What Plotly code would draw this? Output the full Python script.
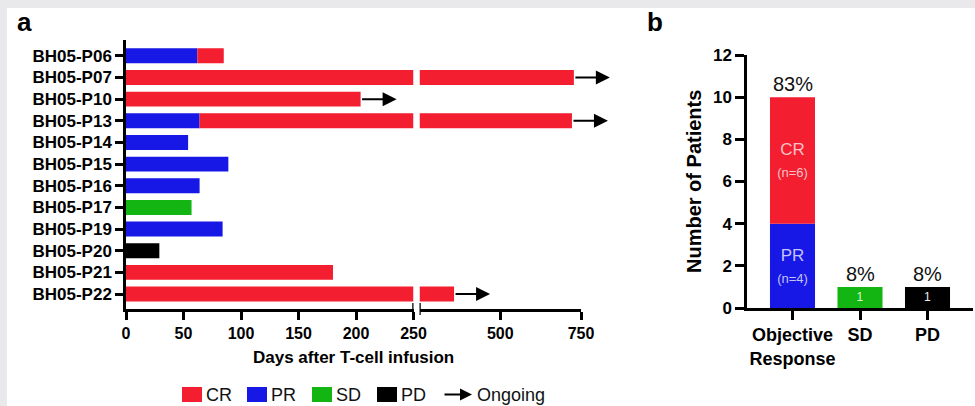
import plotly.graph_objects as go

# ---------------- data ----------------
patients = ["BH05-P06", "BH05-P07", "BH05-P10", "BH05-P13", "BH05-P14", "BH05-P15",
            "BH05-P16", "BH05-P17", "BH05-P19", "BH05-P20", "BH05-P21", "BH05-P22"]
# durations (days) of each response phase, in order PR -> CR -> SD -> PD
pr_days = [62, 0, 0, 64, 54, 89, 64, 0, 84, 0, 0, 0]
cr_days = [23, 728, 204, 658, 0, 0, 0, 0, 0, 0, 180, 357]
sd_days = [0, 0, 0, 0, 0, 0, 0, 57, 0, 0, 0, 0]
pd_days = [0, 0, 0, 0, 0, 0, 0, 0, 0, 29, 0, 0]
ongoing = [False, True, True, True, False, False, False, False, False, False, False, True]

axis_break = 250
axis_max = 750
ticks_seg1 = [0, 50, 100, 150, 200, 250]
ticks_seg2 = [500, 750]

resp_cats = ["Objective<br>Response", "SD", "PD"]
pr_counts = [4, 0, 0]
cr_counts = [6, 0, 0]
sd_counts = [0, 1, 0]
pd_counts = [0, 0, 1]

# ---------------- styling / layout constants ----------------
W, H = 975, 406
RED, BLUE, GREEN, BLACK = "#f31e2f", "#1717e6", "#12b512", "#000000"
FONT = "Liberation Sans, Arial, sans-serif"

def px(x):
    return x / W

def py(y):
    return 1 - y / H

x1_dom = [px(126), px(413.5)]
x2_dom = [px(419.5), px(581)]
y1_dom = [py(309), py(40)]
x3_dom = [px(747), px(973)]
y3_dom = [py(308), py(55)]

fig = go.Figure()

# ---------------- panel a: swimmer plot ----------------
phases = [("PR", pr_days, BLUE), ("CR", cr_days, RED), ("SD", sd_days, GREEN), ("PD", pd_days, BLACK)]
cum = [0] * len(patients)
ends = [0] * len(patients)
for name, days, color in phases:
    b1, l1, b2, l2 = [], [], [], []
    for i, d in enumerate(days):
        s = cum[i]
        e = s + d
        if d <= 0:
            b1.append(None); l1.append(None); b2.append(None); l2.append(None)
            continue
        if s < axis_break:
            b1.append(s); l1.append(min(e, axis_break) - s)
        else:
            b1.append(None); l1.append(None)
        if e > axis_break:
            s2 = max(s, axis_break)
            b2.append(s2); l2.append(e - s2)
        else:
            b2.append(None); l2.append(None)
        cum[i] = e
        ends[i] = e
    fig.add_trace(go.Bar(y=patients, x=l1, base=b1, orientation="h", xaxis="x", yaxis="y",
                         marker=dict(color=color, line=dict(width=0)), width=0.69,
                         showlegend=False, name=name))
    fig.add_trace(go.Bar(y=patients, x=l2, base=b2, orientation="h", xaxis="x2", yaxis="y",
                         marker=dict(color=color, line=dict(width=0)), width=0.69,
                         showlegend=False, name=name))

annotations = []
ARROW_PX = 36
seg1_scale = axis_break / ((x1_dom[1] - x1_dom[0]) * W)
seg2_scale = (axis_max - axis_break) / ((x2_dom[1] - x2_dom[0]) * W)
for i, p in enumerate(patients):
    if not ongoing[i]:
        continue
    e = ends[i]
    if e > axis_break:
        ref, L = "x2", ARROW_PX * seg2_scale
    else:
        ref, L = "x", ARROW_PX * seg1_scale
    annotations.append(dict(x=e + L, y=p, xref=ref, yref="y", ax=e, ay=0, axref=ref, ayref="pixel",
                            text="", showarrow=True, arrowhead=2, arrowsize=1.4, arrowwidth=2,
                            arrowcolor="black", standoff=0))

# ---------------- panel b: best response ----------------
totals = [a + b + c + d for a, b, c, d in zip(pr_counts, cr_counts, sd_counts, pd_counts)]
n_total = sum(totals)

def lbl(tag, n):
    return f"{tag}<br><span style='font-size:13px'>(n={n})</span>" if n else ""

fig.add_trace(go.Bar(x=resp_cats, y=pr_counts, base=[0, 0, 0], xaxis="x3", yaxis="y3",
                     marker=dict(color=BLUE, line=dict(width=0)), width=0.667,
                     text=[lbl("PR", n) for n in pr_counts], textposition="inside",
                     insidetextanchor="middle", textangle=0, constraintext="none",
                     insidetextfont=dict(color="#c4c4fb", size=17, family=FONT), showlegend=False))
fig.add_trace(go.Bar(x=resp_cats, y=cr_counts, base=pr_counts, xaxis="x3", yaxis="y3",
                     marker=dict(color=RED, line=dict(width=0)), width=0.667,
                     text=[lbl("CR", n) for n in cr_counts], textposition="inside",
                     insidetextanchor="middle", textangle=0, constraintext="none",
                     insidetextfont=dict(color="#fbc2c8", size=17, family=FONT), showlegend=False))
fig.add_trace(go.Bar(x=resp_cats, y=sd_counts, base=[0, 0, 0], xaxis="x3", yaxis="y3",
                     marker=dict(color=GREEN, line=dict(width=0)), width=0.667,
                     text=[str(n) if n else "" for n in sd_counts], textposition="inside",
                     insidetextanchor="middle", textangle=0, constraintext="none",
                     insidetextfont=dict(color="#d8f5d8", size=12, family=FONT), showlegend=False))
fig.add_trace(go.Bar(x=resp_cats, y=pd_counts, base=[0, 0, 0], xaxis="x3", yaxis="y3",
                     marker=dict(color=BLACK, line=dict(width=0)), width=0.667,
                     text=[str(n) if n else "" for n in pd_counts], textposition="inside",
                     insidetextanchor="middle", textangle=0, constraintext="none",
                     insidetextfont=dict(color="#eeeeee", size=12, family=FONT), showlegend=False))

for c, t in zip(resp_cats, totals):
    annotations.append(dict(x=c, y=t, xref="x3", yref="y3", text=f"{round(100 * t / n_total)}%",
                            showarrow=False, yanchor="bottom",
                            font=dict(size=20, family=FONT, color="#111")))

# ---------------- texts ----------------
def ptext(x, y, text, size, bold=False, xanchor="center", angle=0, color="black"):
    f = dict(size=size, family=FONT, color=color)
    if bold:
        f["weight"] = "bold"
    return dict(x=px(x), y=py(y), xref="paper", yref="paper", text=text, showarrow=False,
                xanchor=xanchor, yanchor="middle", textangle=angle, font=f)

annotations += [
    ptext(24, 22, "a", 26, bold=True),
    ptext(655, 22, "b", 26, bold=True),
    ptext(353.5, 357, "Days after T-cell infusion", 17, bold=True),
    ptext(694, 182, "Number of Patients", 20, bold=True, angle=-90),
]

# manual legend
shapes = [dict(type="rect", xref="paper", yref="paper", x0=px(7), x1=1, y0=0, y1=py(8),
               fillcolor="white", line=dict(width=0), layer="below")]
leg_items = [("CR", RED), ("PR", BLUE), ("SD", GREEN), ("PD", BLACK)]
leg_x0, leg_step, sw_w, leg_y0, leg_y1 = 182, 65, 20, 387, 402
for k, (name, color) in enumerate(leg_items):
    x0 = leg_x0 + k * leg_step
    shapes.append(dict(type="rect", xref="paper", yref="paper", x0=px(x0), x1=px(x0 + sw_w),
                       y0=py(leg_y1), y1=py(leg_y0), fillcolor=color, line=dict(width=0)))
    annotations.append(ptext(x0 + sw_w + 2, (leg_y0 + leg_y1) / 2, name, 18, xanchor="left", color="#111"))
annotations.append(dict(x=px(472), y=py(394.5), xref="paper", yref="paper", ax=-29, ay=0,
                        text="", showarrow=True, arrowhead=2, arrowsize=1.2, arrowwidth=2,
                        arrowcolor="black", standoff=0))
annotations.append(ptext(475, 394.5, "Ongoing", 18, xanchor="left", color="#111"))

# axis break marks
for ref in ["x", "x2"]:
    shapes.append(dict(type="line", xref=ref, yref="paper", x0=axis_break, x1=axis_break,
                       y0=py(315), y1=py(303), line=dict(color="black", width=2.5)))

axis_common = dict(showline=True, linecolor="black", linewidth=2.5, ticks="outside",
                   tickcolor="black", tickwidth=2.5, showgrid=False, zeroline=False,
                   automargin=False)

fig.update_layout(
    width=W, height=H, margin=dict(l=0, r=0, t=0, b=0),
    paper_bgcolor="#e9e9eb", plot_bgcolor="white", barmode="overlay",
    font=dict(family=FONT, color="black"),
    xaxis=dict(domain=x1_dom, range=[0, axis_break], tickvals=ticks_seg1, anchor="y", ticklen=8,
               tickfont=dict(size=16, weight="bold"), **axis_common),
    xaxis2=dict(domain=x2_dom, range=[axis_break, axis_max], tickvals=ticks_seg2, anchor="y", ticklen=8,
                tickfont=dict(size=16, weight="bold"), **axis_common),
    yaxis=dict(domain=y1_dom, type="category", categoryorder="array", categoryarray=patients,
               range=[len(patients) - 1 + 0.69, -0.73], anchor="x", ticklen=8,
               tickfont=dict(size=17, weight="bold"), **axis_common),
    xaxis3=dict(domain=x3_dom, type="category", range=[-0.674, 2.674], anchor="y3", ticklen=9,
                tickfont=dict(size=18, weight="bold"), **axis_common),
    yaxis3=dict(domain=y3_dom, range=[0, 12], dtick=2, anchor="x3", ticklen=9,
                tickfont=dict(size=17, weight="bold"), **axis_common),
    annotations=annotations, shapes=shapes,
)

fig.write_html("out.html", config={"displayModeBar": False},
               post_script="document.body.style.margin='0px';document.body.style.overflow='hidden';")
